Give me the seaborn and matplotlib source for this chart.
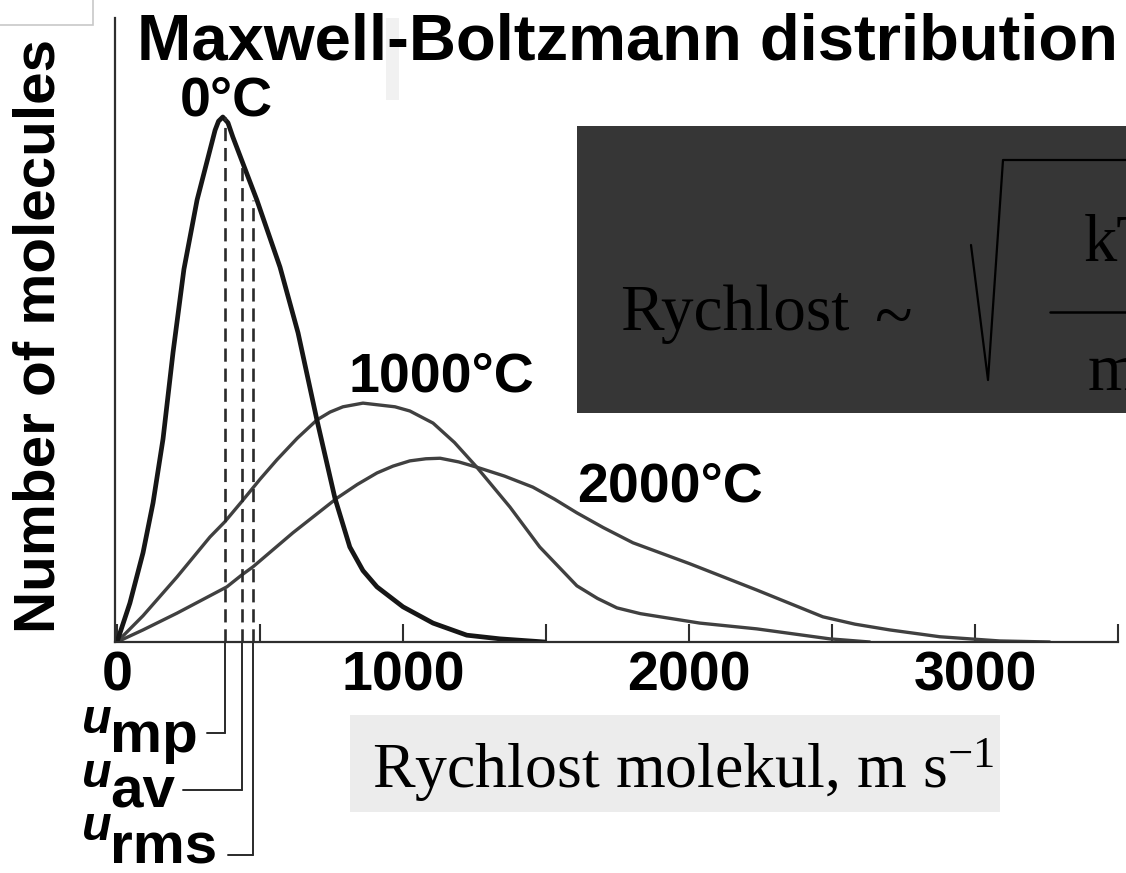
import matplotlib
matplotlib.use("Agg")
import matplotlib.pyplot as plt
import matplotlib.transforms as mtransforms
from matplotlib.patches import Rectangle
from matplotlib.lines import Line2D
import pandas as pd
import seaborn as sns

# ---- values: speed (m/s) vs relative number of molecules ----
speed_0C = [0, 45, 91, 126, 161, 196, 234, 280, 325, 343, 355, 370, 388, 405, 440, 489,
            570, 633, 699, 762, 814, 860, 909, 1000, 1105, 1223, 1339, 1496]
count_0C = [0, 7.4, 17.0, 26.5, 38.7, 55.2, 71.0, 84.2, 93.7, 97.5, 99.2, 100.0, 98.9, 96.2,
            91.2, 84.2, 71.4, 58.9, 42.3, 27.4, 18.1, 13.6, 10.5, 6.7, 3.6, 1.3, 0.6, 0.0]

speed_1000C = [0, 91, 210, 325, 377, 440, 500, 559, 630, 699, 745, 790, 860, 972, 1024, 1105,
               1180, 1258, 1374, 1478, 1608, 1680, 1748, 1830, 1922, 2038, 2237, 2492, 2632]
count_1000C = [0, 5.0, 12.4, 20.0, 22.9, 27.0, 31.0, 34.7, 38.8, 42.3, 43.8, 44.8, 45.5, 44.8,
               44.0, 41.7, 38.0, 33.3, 25.7, 18.1, 10.7, 8.3, 6.5, 5.4, 4.6, 3.6, 2.5, 0.6, 0.0]

speed_2000C = [0, 91, 210, 384, 437, 475, 615, 769, 840, 909, 965, 1024, 1080, 1130, 1195,
               1258, 1355, 1454, 1530, 1608, 1700, 1804, 2003, 2237, 2468, 2580, 2702, 2877,
               3086, 3261]
count_2000C = [0, 2.3, 5.5, 10.5, 12.8, 14.3, 20.8, 27.4, 30.0, 32.2, 33.5, 34.5, 34.9, 35.0,
               34.3, 33.3, 31.6, 29.5, 27.2, 24.6, 21.8, 18.9, 14.9, 9.9, 4.8, 3.4, 2.3, 1.0,
               0.2, 0.0]

temp_labels = ["0°C", "1000°C", "2000°C"]

u_names = ["mp", "av", "rms"]
u_speed_0C = [377, 437, 475]
u_top_0C = [100.0, 91.4, 84.2]

x_major = [0, 1000, 2000, 3000]
x_minor = [500, 1500, 2500, 3500]

title = "Maxwell-Boltzmann distribution"
y_label = "Number of molecules"
x_label = "Rychlost molekul, m s$^{-1}$"

# ---- style ----
sns.set_theme(style="white")
plt.rcParams["font.family"] = ["Liberation Sans", "DejaVu Sans"]
plt.rcParams["text.color"] = "black"
plt.rcParams["xtick.color"] = "black"
plt.rcParams["mathtext.fontset"] = "custom"
plt.rcParams["mathtext.rm"] = "Liberation Serif"
plt.rcParams["mathtext.it"] = "Liberation Serif:italic"
plt.rcParams["mathtext.bf"] = "Liberation Serif:bold"

W, H = 1126, 873
fig = plt.figure(figsize=(W / 100, H / 100), dpi=100)
fig.patch.set_facecolor("white")


def fx(x):
    return x / W


def fy(y):
    return 1 - y / H


ax = fig.add_axes([fx(115), fy(642), (1118 - 115) / W, (642 - 18) / H])
ax.set_facecolor("none")

df = pd.concat([
    pd.DataFrame({"speed": speed_0C, "count": count_0C, "temp": temp_labels[0]}),
    pd.DataFrame({"speed": speed_1000C, "count": count_1000C, "temp": temp_labels[1]}),
    pd.DataFrame({"speed": speed_2000C, "count": count_2000C, "temp": temp_labels[2]}),
])

styles = {temp_labels[0]: ("#161616", 3.4),
          temp_labels[1]: ("#404040", 2.4),
          temp_labels[2]: ("#404040", 2.4)}
for t in temp_labels[::-1]:
    sub = df[df["temp"] == t]
    c, lw = styles[t]
    sns.lineplot(data=sub, x="speed", y="count", ax=ax, color=c, linewidth=lw,
                 estimator=None, sort=False, legend=False,
                 solid_capstyle="round", solid_joinstyle="round")

# dashed characteristic-speed lines of the 0 °C curve
for u, top in zip(u_speed_0C, u_top_0C):
    ax.plot([u, u], [0, top], color="#2a2a2a", linewidth=1.9,
            linestyle=(0, (5, 2.6)))

ax.set_xlim(-7, 3500)
ax.set_ylim(0, (642 - 18) / 5.25)
ax.set_xlabel("")
ax.set_ylabel("")

for s in ["top", "right"]:
    ax.spines[s].set_visible(False)
for s in ["left", "bottom"]:
    ax.spines[s].set_color("#2e2e2e")
    ax.spines[s].set_linewidth(1.6)

ax.set_yticks([])
ax.set_xticks(x_major)
ax.set_xticklabels([str(v) for v in x_major], fontsize=40, fontweight="bold")
ax.set_xticks(x_minor, minor=True)
ax.tick_params(axis="x", which="both", direction="in", length=13, width=1.5,
               color="#2e2e2e", pad=6, bottom=True)
ax.tick_params(axis="x", which="major", labelcolor="black")

# bracket lines below the axis leading to u labels
blend = mtransforms.blended_transform_factory(ax.transData, fig.transFigure)
bracket_y = [733, 790, 855]
bracket_left = [207, 183, 228]
for u, by, bl in zip(u_speed_0C, bracket_y, bracket_left):
    ax.add_line(Line2D([u, u], [fy(642), fy(by)], transform=blend, color="#2a2a2a",
                       linewidth=1.4, clip_on=False))
    xd = ax.transData.inverted().transform((bl, 0))[0]
    ax.add_line(Line2D([xd, u], [fy(by), fy(by)], transform=blend, color="#2a2a2a",
                       linewidth=1.4, clip_on=False))

# u labels
u_base = [733, 787, 840]
sub_base = [752, 808, 863]
for name, ub, sb in zip(u_names, u_base, sub_base):
    fig.text(fx(82), fy(ub), "u", fontsize=35, fontweight="bold", fontstyle="italic",
             ha="left", va="baseline", color="black")
    fig.text(fx(110), fy(sb), name, fontsize=42, fontweight="bold",
             ha="left", va="baseline", color="black")

# temperature labels
fig.text(fx(180), fy(115), temp_labels[0], fontsize=40, fontweight="bold",
         ha="left", va="baseline", color="black")
fig.text(fx(348), fy(392), temp_labels[1], fontsize=40, fontweight="bold",
         ha="left", va="baseline", color="black")
fig.text(fx(577), fy(502), temp_labels[2], fontsize=40, fontweight="bold",
         ha="left", va="baseline", color="black")

# title and y label
fig.add_artist(Rectangle((fx(386), fy(100)), 13 / W, 82 / H, transform=fig.transFigure,
                         facecolor="#f1f1f1", edgecolor="none", zorder=0))
fig.text(fx(137), fy(60), title, fontsize=47, fontweight="bold",
         ha="left", va="baseline", color="black")
fig.text(fx(40), fy(336), y_label, fontsize=42, fontweight="bold", rotation=90,
         ha="center", va="center", color="black")

# small framed box top-left
fig.add_artist(Rectangle((fx(-2), fy(25)), 95 / W, 27 / H, transform=fig.transFigure,
                         facecolor="white", edgecolor="#c8c8c8", linewidth=1.2))

# dark formula box
fig.add_artist(Rectangle((fx(577), fy(413)), 600 / W, (413 - 126) / H,
                         transform=fig.transFigure, facecolor="#363636",
                         edgecolor="none", zorder=3))
serif = ["Liberation Serif", "DejaVu Serif"]
fig.text(fx(620), fy(330), "Rychlost", fontsize=47, family=serif, color="black",
         ha="left", va="baseline", zorder=4)
fig.text(fx(874), fy(338), "~", fontsize=50, family=serif, color="black",
         ha="left", va="baseline", zorder=4)
fig.add_artist(Line2D([fx(971), fx(988), fx(1003), fx(1140)],
                      [fy(245), fy(380), fy(160), fy(160)],
                      transform=fig.transFigure, color="black", linewidth=1.6, zorder=4))
fig.add_artist(Line2D([fx(1050), fx(1140)], [fy(312), fy(312)],
                      transform=fig.transFigure, color="black", linewidth=1.8, zorder=4))
fig.text(fx(1084), fy(261), "kT", fontsize=48, family=serif, color="black",
         ha="left", va="baseline", zorder=4)
fig.text(fx(1088), fy(390), "m", fontsize=48, family=serif, color="black",
         ha="left", va="baseline", zorder=4)

# light axis-title box
fig.add_artist(Rectangle((fx(350), fy(812)), (1000 - 350) / W, (812 - 715) / H,
                         transform=fig.transFigure, facecolor="#ececec",
                         edgecolor="none", zorder=3))
fig.text(fx(372), fy(788), x_label, fontsize=46, family=serif, color="black",
         ha="left", va="baseline", zorder=4)

fig.savefig("out.png", dpi=100)
